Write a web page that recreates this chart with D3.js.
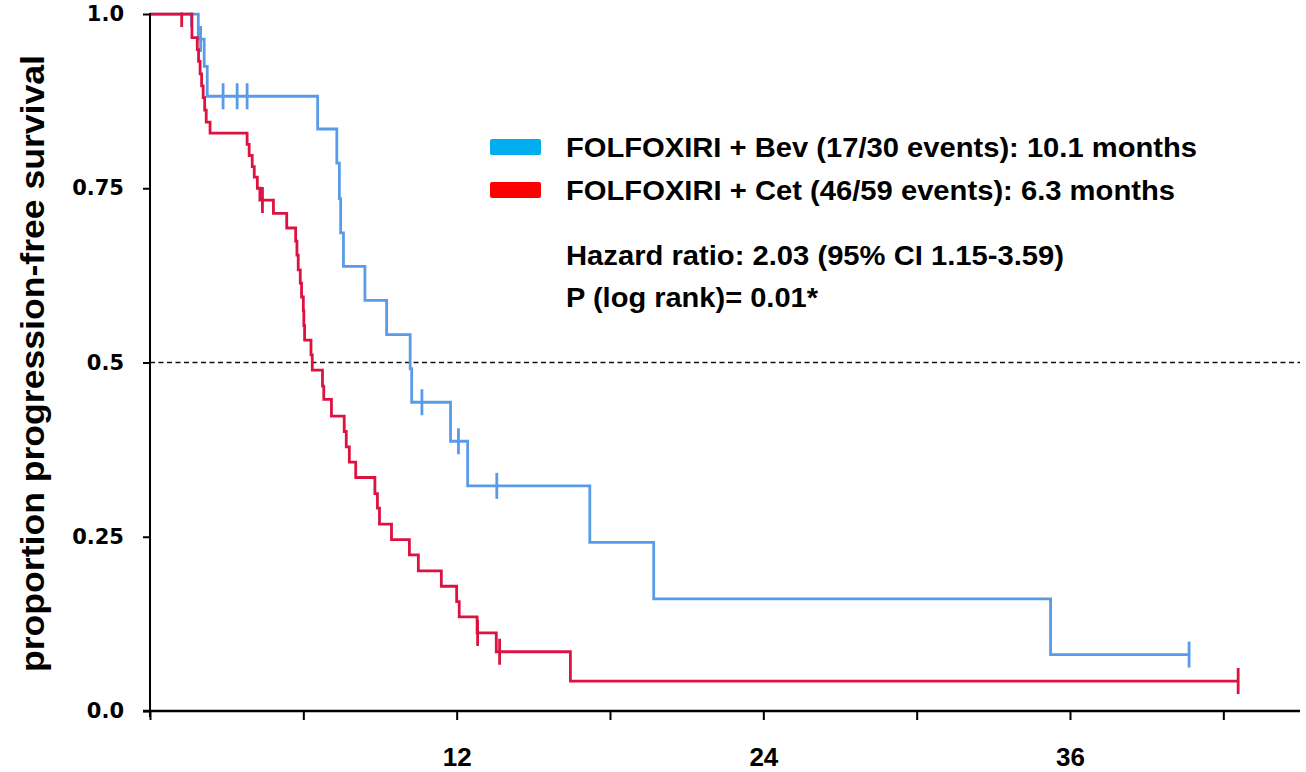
<!DOCTYPE html>
<html>
<head>
<meta charset="utf-8">
<script src="https://cdn.jsdelivr.net/npm/d3@7"></script>
<style>
  html, body { margin: 0; padding: 0; background: #ffffff; }
  svg { display: block; }
</style>
</head>
<body>
<script>
// Kaplan–Meier progression-free survival, FOLFOXIRI + Bev vs FOLFOXIRI + Cet

// FOLFOXIRI + Bev: event times (months) and survival after each event
const bevEventTimes = [1.89, 2.12, 2.24, 6.56, 7.31, 7.41, 7.46, 7.57, 8.41, 9.26, 10.18, 10.24, 11.76, 12.43, 17.21, 19.71, 35.24];
const bevSurvival   = [0.964, 0.925, 0.882, 0.835, 0.786, 0.735, 0.686, 0.638, 0.589, 0.540, 0.491, 0.443, 0.387, 0.323, 0.242, 0.161, 0.081];
// FOLFOXIRI + Bev: censored observations
const bevCensorTimes    = [1.62, 1.98, 2.86, 3.41, 3.80, 10.64, 12.07, 13.57, 40.66];
const bevCensorSurvival = [1.0, 0.964, 0.882, 0.882, 0.882, 0.443, 0.387, 0.323, 0.081];

// FOLFOXIRI + Cet: event times (months) and survival after each event
const cetEventTimes = [1.64, 1.85, 1.90, 1.96, 2.02, 2.08, 2.14, 2.20, 2.35,
                       3.80, 3.88, 4.00, 4.08, 4.20, 4.30,
                       4.83, 5.35, 5.70,
                       5.75, 5.80, 5.88, 5.93, 6.00, 6.02, 6.05,
                       6.30, 6.35, 6.75, 6.80, 7.10,
                       7.60, 7.68, 7.80, 8.05,
                       8.80, 8.90, 8.98, 9.45, 10.15, 10.50, 11.40,
                       12.00, 12.10, 12.80, 13.55, 16.45];
const cetSurvival   = [0.966, 0.949, 0.932, 0.914, 0.897, 0.880, 0.862, 0.845, 0.829,
                       0.813, 0.797, 0.781, 0.766, 0.750, 0.733,
                       0.714, 0.693, 0.674,
                       0.654, 0.633, 0.614, 0.594, 0.574, 0.553, 0.532,
                       0.511, 0.489, 0.466, 0.447, 0.423,
                       0.401, 0.379, 0.357, 0.335,
                       0.312, 0.291, 0.268, 0.246, 0.224, 0.201, 0.179,
                       0.157, 0.135, 0.112, 0.085, 0.043];
// FOLFOXIRI + Cet: censored observations
const cetCensorTimes    = [1.24, 4.40, 12.82, 13.68, 42.58];
const cetCensorSurvival = [1.0, 0.733, 0.112, 0.085, 0.043];

// Axis ticks
const xTickValues = [0, 6, 12, 18, 24, 30, 36, 42];
const xTickLabels = [12, 24, 36];
const yTickValues = [0, 0.25, 0.5, 0.75, 1];
const yTickLabels = ["0.0", "0.25", "0.5", "0.75", "1.0"];

// Legend and annotation text
const seriesNames = ["FOLFOXIRI + Bev (17/30 events): 10.1 months",
                     "FOLFOXIRI + Cet (46/59 events): 6.3 months"];
const statLines = ["Hazard ratio: 2.03 (95% CI 1.15-3.59)",
                   "P (log rank)= 0.01*"];
const yTitle = "proportion progression-free survival";

const W = 1306, H = 772;
const x = d3.scaleLinear().domain([0, 45]).range([150, 1300]);
const y = d3.scaleLinear().domain([0, 1]).range([711, 14]);

const svg = d3.select("body").append("svg")
  .attr("width", W).attr("height", H)
  .style("font-family", "'Liberation Sans', Arial, sans-serif");

svg.append("defs").append("clipPath").attr("id", "plotClip")
  .append("rect")
  .attr("x", x(0) - 2).attr("y", y(1) - 1.5)
  .attr("width", x(45) - x(0) + 30).attr("height", H);

// Median reference line
svg.append("line")
  .attr("x1", x(0)).attr("x2", x(45))
  .attr("y1", y(0.5)).attr("y2", y(0.5))
  .attr("stroke", "#111").attr("stroke-width", 1.6)
  .attr("stroke-dasharray", "5,3.5");

// Build step-curve points: start at (0,1), one point per event, end at last follow-up
function stepPoints(times, surv, endTime) {
  const pts = [[0, 1]];
  times.forEach((t, i) => pts.push([t, surv[i]]));
  pts.push([endTime, surv[surv.length - 1]]);
  return pts;
}

const line = d3.line()
  .x(d => x(d[0])).y(d => y(d[1]))
  .curve(d3.curveStepAfter);

const plot = svg.append("g").attr("clip-path", "url(#plotClip)");

const series = [
  { times: bevEventTimes, surv: bevSurvival, cT: bevCensorTimes, cS: bevCensorSurvival, color: "#5a9be8" },
  { times: cetEventTimes, surv: cetSurvival, cT: cetCensorTimes, cS: cetCensorSurvival, color: "#dc1240" }
];

series.forEach(s => {
  const end = d3.max(s.cT);
  plot.append("path")
    .datum(stepPoints(s.times, s.surv, end))
    .attr("d", line)
    .attr("fill", "none")
    .attr("stroke", s.color)
    .attr("stroke-width", 2.8)
    .attr("stroke-linejoin", "miter");
  plot.selectAll(null)
    .data(s.cT.map((t, i) => [t, s.cS[i]]))
    .enter().append("line")
    .attr("x1", d => x(d[0])).attr("x2", d => x(d[0]))
    .attr("y1", d => y(d[1]) - 13).attr("y2", d => y(d[1]) + 13)
    .attr("stroke", s.color).attr("stroke-width", 2.8);
});

// Y axis
const yAxisG = svg.append("g").attr("transform", `translate(${x(0)},0)`)
  .call(d3.axisLeft(y).tickValues(yTickValues)
    .tickFormat((d, i) => yTickLabels[i]).tickSize(7).tickPadding(19));
yAxisG.select(".domain").remove();
yAxisG.selectAll(".tick line").attr("stroke", "#000").attr("stroke-width", 2);
yAxisG.selectAll(".tick text")
  .attr("fill", "#000")
  .style("font-family", "'DejaVu Sans', sans-serif")
  .style("font-weight", "bold")
  .style("font-size", "21px");
svg.append("line")
  .attr("x1", x(0)).attr("x2", x(0))
  .attr("y1", y(1) - 1).attr("y2", y(0) + 6)
  .attr("stroke", "#000").attr("stroke-width", 2);

// X axis
const xAxisG = svg.append("g").attr("transform", `translate(0,${y(0)})`)
  .call(d3.axisBottom(x).tickValues(xTickValues)
    .tickFormat(d => xTickLabels.includes(d) ? String(d) : "").tickSize(9));
xAxisG.select(".domain").remove();
xAxisG.selectAll(".tick line").attr("stroke", "#000").attr("stroke-width", 2);
xAxisG.selectAll(".tick text")
  .attr("fill", "#000")
  .attr("y", 55).attr("dy", 0)
  .style("font-family", "'Liberation Sans', Arial, sans-serif")
  .style("font-weight", "bold")
  .style("font-size", "26px");
svg.append("line")
  .attr("x1", x(0) - 7).attr("x2", x(45))
  .attr("y1", y(0)).attr("y2", y(0))
  .attr("stroke", "#000").attr("stroke-width", 2.4);

// Y axis title
svg.append("text")
  .attr("transform", `translate(44,${(55 + 672) / 2}) rotate(-90)`)
  .attr("text-anchor", "middle")
  .attr("textLength", 617).attr("lengthAdjust", "spacingAndGlyphs")
  .style("font-weight", "bold").style("font-size", "34px")
  .attr("fill", "#000")
  .text(yTitle);

// Legend
const legendColors = ["#00aeef", "#ff0000"];
const legendY = [147, 190];
const legendWidths = [631, 609];
seriesNames.forEach((name, i) => {
  svg.append("rect")
    .attr("x", 490).attr("y", legendY[i] - 8)
    .attr("width", 51).attr("height", 16).attr("rx", 2)
    .attr("fill", legendColors[i]);
  svg.append("text")
    .attr("x", 566).attr("y", legendY[i] + 10)
    .attr("textLength", legendWidths[i]).attr("lengthAdjust", "spacingAndGlyphs")
    .style("font-weight", "bold").style("font-size", "28px")
    .attr("fill", "#000")
    .text(name);
});

const statY = [265, 307];
const statWidths = [498, 252];
statLines.forEach((t, i) => {
  svg.append("text")
    .attr("x", 566).attr("y", statY[i])
    .attr("textLength", statWidths[i]).attr("lengthAdjust", "spacingAndGlyphs")
    .style("font-weight", "bold").style("font-size", "28px")
    .attr("fill", "#000")
    .text(t);
});
</script>
</body>
</html>
